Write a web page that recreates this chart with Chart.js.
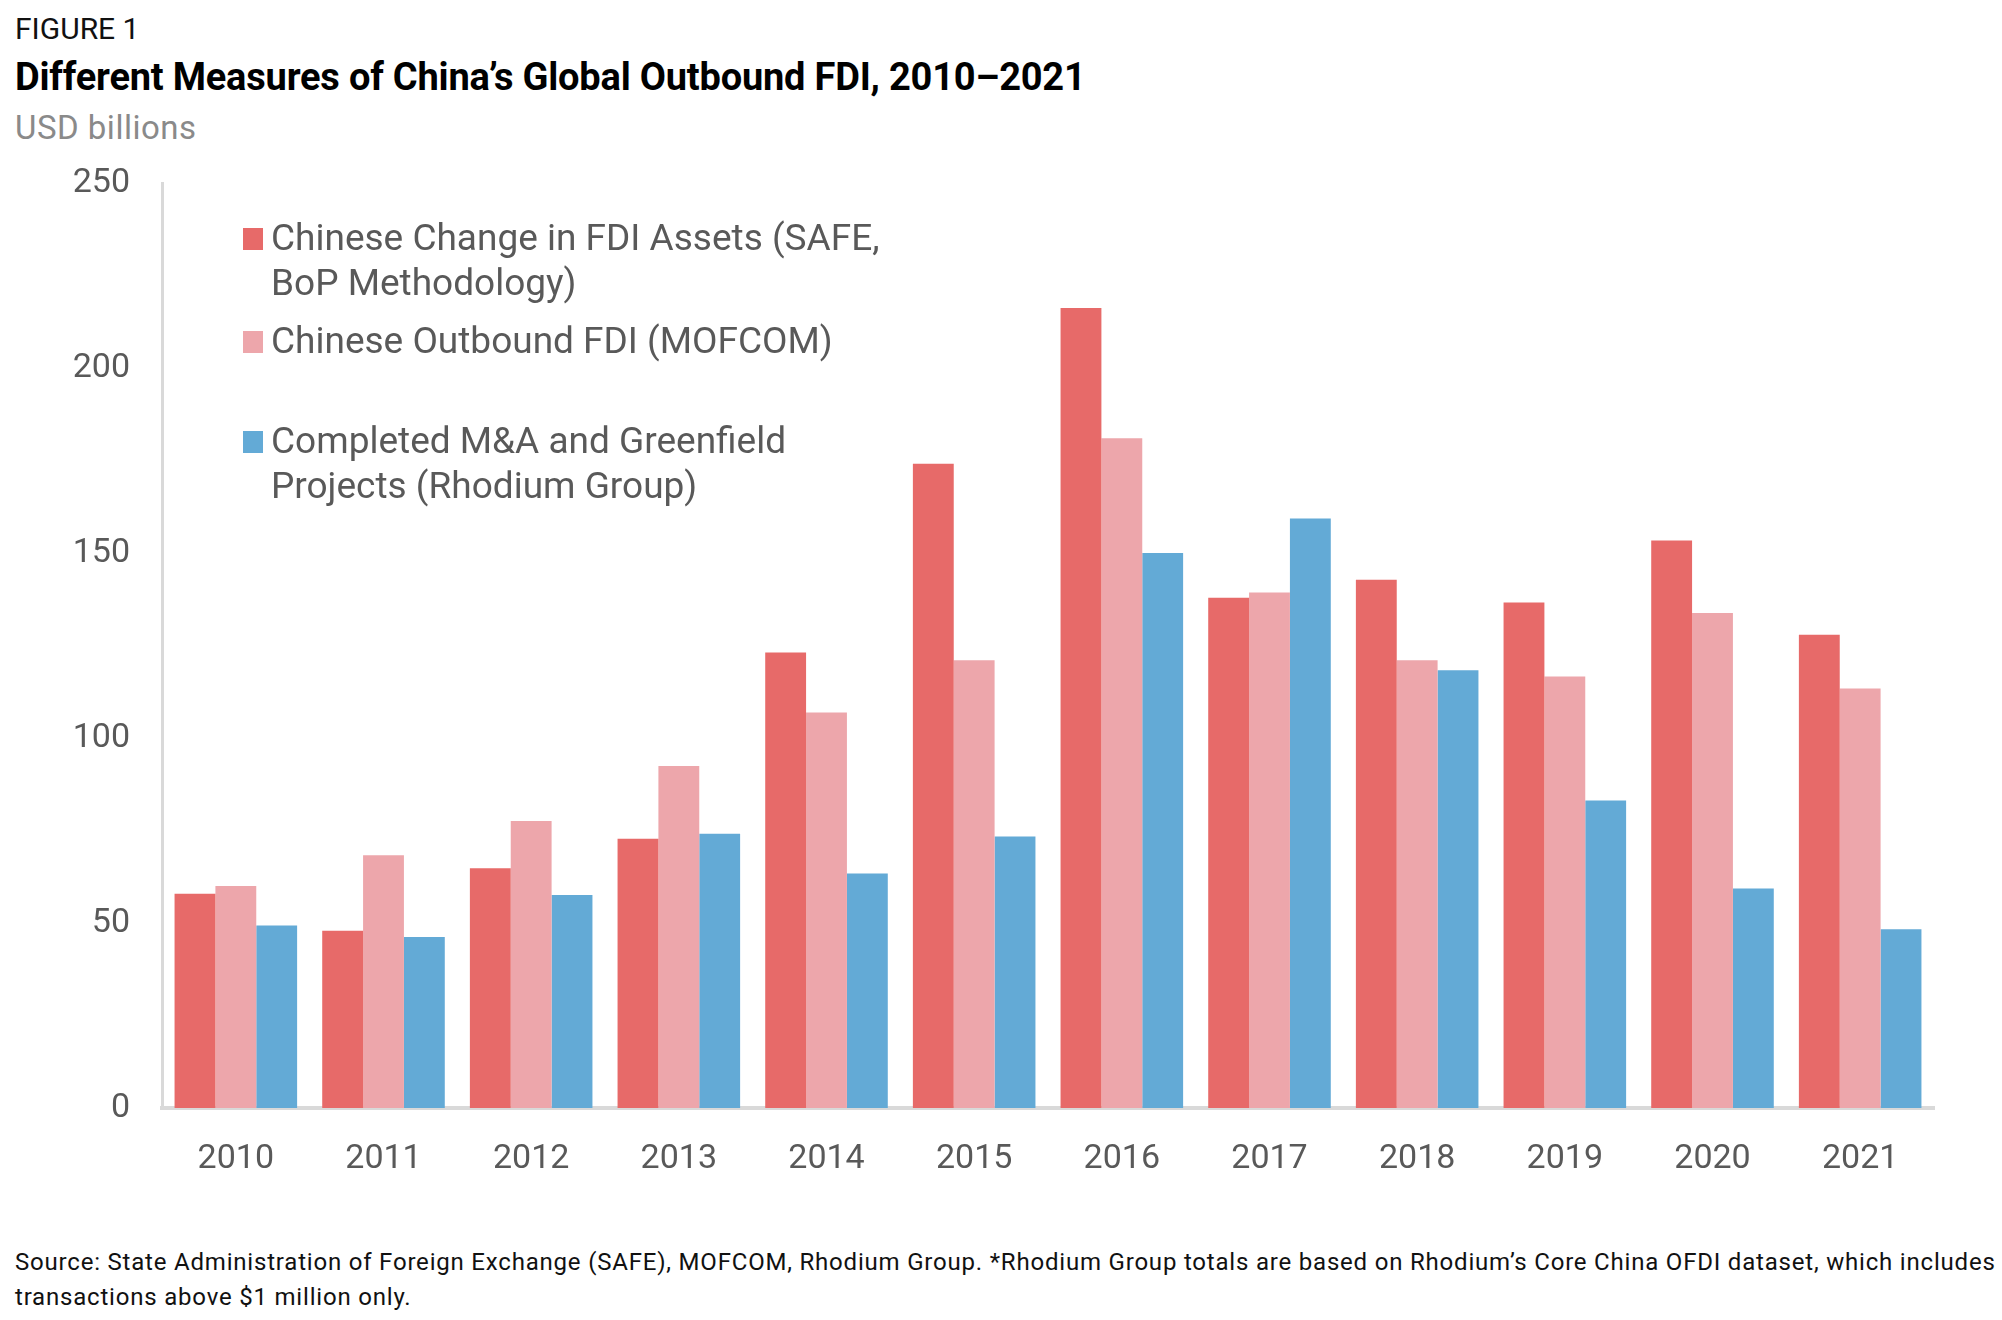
<!DOCTYPE html>
<html>
<head>
<meta charset="utf-8">
<script src="https://cdn.jsdelivr.net/npm/chart.js@4.4.0/dist/chart.umd.min.js"></script>
<style>
  html, body { margin:0; padding:0; background:#fff; }
  body { width:2002px; height:1320px; position:relative; overflow:hidden; font-family: Roboto, "Noto Sans", sans-serif; }
  .t { position:absolute; left:15px; white-space:nowrap; }
  #fig { top:11px; font-size:30px; color:#111; }
  #title { top:55px; font-size:38px; font-weight:bold; color:#000; letter-spacing:-0.2px; }
  #unit { top:108px; font-size:33px; color:#8a8a8a; letter-spacing:0.5px; }
  #foot { top:1245px; font-size:24px; color:#111; line-height:35px; letter-spacing:0.8px; }
  #chartWrap { position:absolute; left:0; top:0; width:2002px; height:1230px; }
  #legend { position:absolute; left:243px; top:215px; }
  .li { position:relative; padding-left:28px; font-size:37px; color:#595959; line-height:45px; white-space:nowrap; }
  .sw { position:absolute; left:0; top:13px; width:20px; height:22px; }
</style>
</head>
<body>
<div class="t" id="fig">FIGURE 1</div>
<div class="t" id="title">Different Measures of China’s Global Outbound FDI, 2010–2021</div>
<div class="t" id="unit">USD billions</div>
<div id="chartWrap"><canvas id="c" width="2002" height="1230"></canvas></div>
<div id="legend"></div>
<div class="t" id="foot">Source: State Administration of Foreign Exchange (SAFE), MOFCOM, Rhodium Group. *Rhodium Group totals are based on Rhodium’s Core China OFDI dataset, which includes<br>transactions above $1 million only.</div>
<script>
const years = ["2010","2011","2012","2013","2014","2015","2016","2017","2018","2019","2020","2021"];
const safeLabel = ["Chinese Change in FDI Assets (SAFE,", "BoP Methodology)"];
const mofcomLabel = ["Chinese Outbound FDI (MOFCOM)"];
const rhodiumLabel = ["Completed M&A and Greenfield", "Projects (Rhodium Group)"];
const safeValues    = [57.9, 47.9, 64.8, 72.8, 123.1, 174.1, 216.2, 137.9, 142.8, 136.6, 153.4, 127.9];
const mofcomValues  = [60.0, 68.3, 77.6, 92.4, 106.9, 121.0, 181.0, 139.3, 121.0, 116.6, 133.8, 113.4];
const rhodiumValues = [49.3, 46.2, 57.6, 74.1, 63.4, 73.4, 150.0, 159.3, 118.3, 83.1, 59.3, 48.3];
const yTicks = [0, 50, 100, 150, 200, 250];

const colors = ["#E76A69", "#EDA6AB", "#63AAD6"];
const datasets = [
  { label: safeLabel, data: safeValues, backgroundColor: colors[0] },
  { label: mofcomLabel, data: mofcomValues, backgroundColor: colors[1] },
  { label: rhodiumLabel, data: rhodiumValues, backgroundColor: colors[2] }
];

const W = 2002, H = 1230;
const chart = new Chart(document.getElementById('c'), {
  type: 'bar',
  data: { labels: years, datasets: datasets.map(d => ({
    label: d.label.join(' '), data: d.data, backgroundColor: d.backgroundColor,
    borderWidth: 0, barPercentage: 1.0, categoryPercentage: 0.83
  })) },
  options: {
    responsive: false, animation: false,
    layout: { padding: { top: 183, right: 68, left: 0, bottom: 0 } },
    plugins: { legend: { display: false }, tooltip: { enabled: false } },
    scales: {
      x: {
        grid: { display: false, drawTicks: false },
        border: { display: true, color: '#d9d9d9', width: 4 },
        ticks: { color: '#595959', font: { family: 'Roboto', size: 34 }, padding: 31, maxRotation: 0 },
        afterFit: (s) => { s.height = H - 1108; }
      },
      y: {
        min: 0, max: 250,
        afterBuildTicks: (s) => { s.ticks = yTicks.map(v => ({ value: v })); },
        grid: { display: false, drawTicks: false },
        border: { display: true, color: '#d9d9d9', width: 3 },
        ticks: { color: '#595959', font: { family: 'Roboto', size: 34 }, padding: 32 },
        afterFit: (s) => { s.width = 162; }
      }
    }
  }
});

// HTML legend built from the datasets
const legend = document.getElementById('legend');
const gaps = [0, 13, 55];
datasets.forEach((d, i) => {
  const div = document.createElement('div');
  div.className = 'li';
  div.style.marginTop = gaps[i] + 'px';
  const sw = document.createElement('span');
  sw.className = 'sw';
  sw.style.background = d.backgroundColor;
  div.appendChild(sw);
  d.label.forEach((line, k) => {
    if (k) div.appendChild(document.createElement('br'));
    div.appendChild(document.createTextNode(line));
  });
  legend.appendChild(div);
});
</script>
</body>
</html>
